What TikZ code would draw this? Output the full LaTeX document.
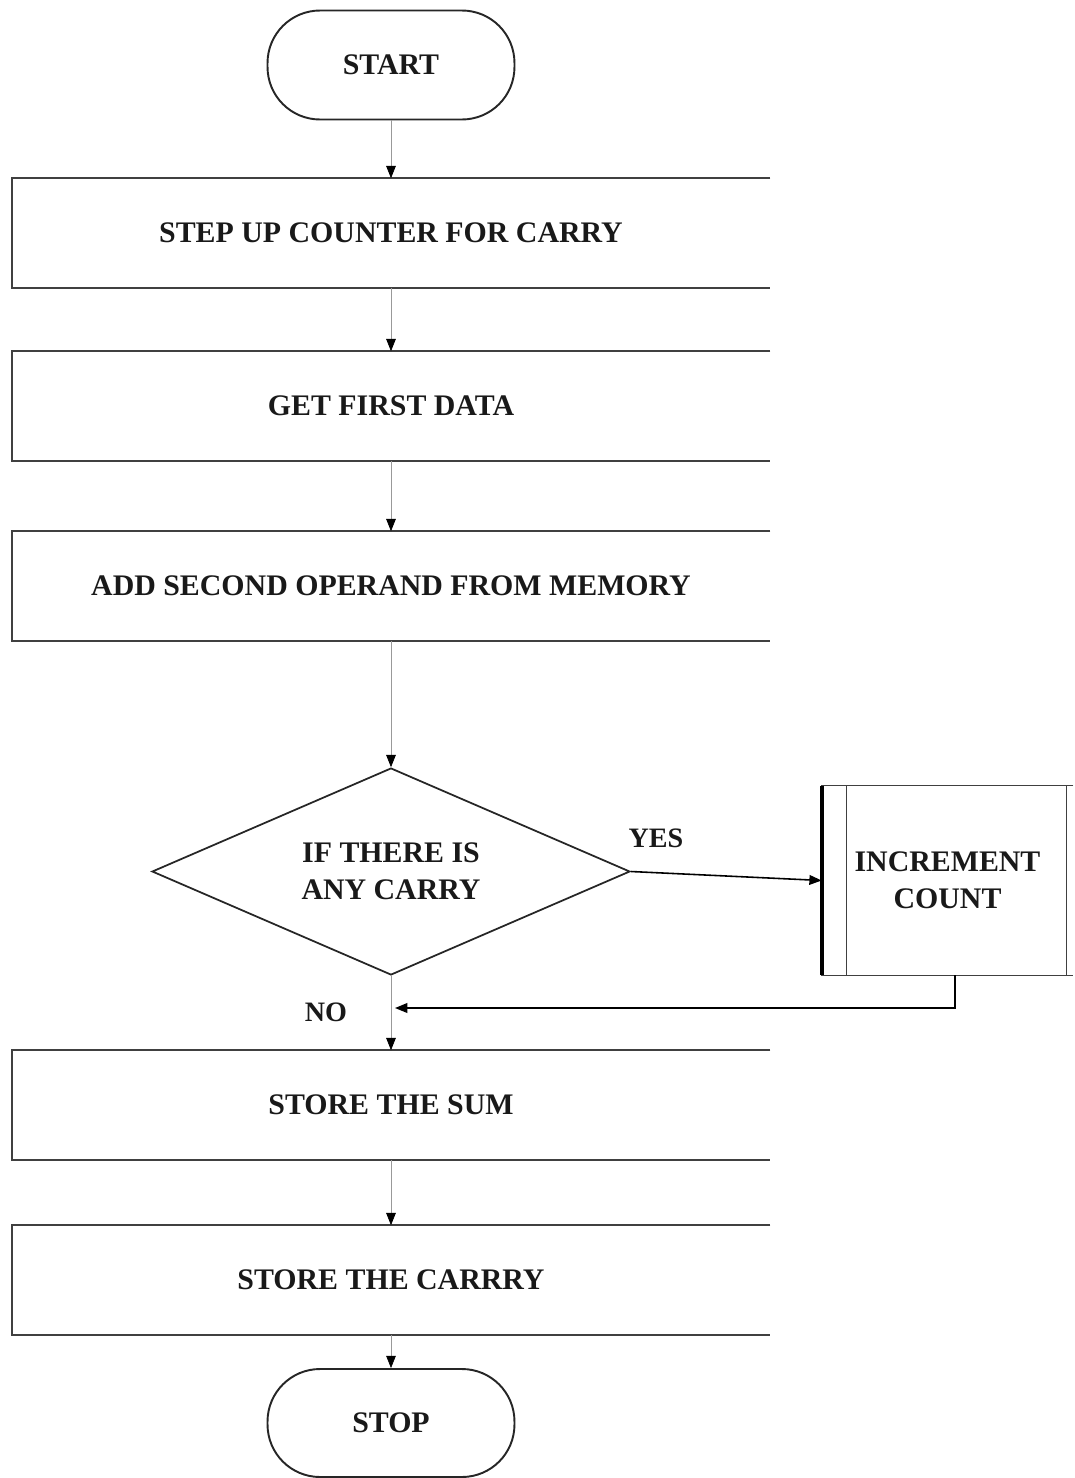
\documentclass[tikz,border=0pt]{standalone}
\usepackage{fontspec}
\setmainfont{Liberation Serif}
\usetikzlibrary{shapes.geometric,arrows.meta,calc}
\begin{document}
\begin{tikzpicture}[x=0.02cm,y=-0.02cm,
  lbl/.style={font=\fontsize{17}{21}\selectfont\bfseries,text=black!90},
  term/.style={draw=black!85,line width=1.1pt,rounded corners=1.05cm,
    minimum width=4.94cm,minimum height=2.18cm,inner sep=0pt,lbl},
  proc/.style={minimum width=15.16cm,minimum height=2.18cm,inner sep=0pt,lbl},
  edge/.style={draw=black!75,line width=0.9pt},
  tip/.style={-{Triangle[length=7pt,width=5.5pt,color=black]}},
  flow/.style={draw=black!40,line width=0.4pt,tip},
  link/.style={draw=black,line width=0.9pt,tip}
]
\path[use as bounding box] (0,0) rectangle (1075,1478);

% terminals
\node[term] (start) at (391,65) {START};
\node[term,minimum height=2.16cm] (stop) at (391,1423) {STOP};

% process boxes (open on the right)
\node[proc] (b1) at (391,233) {STEP UP COUNTER FOR CARRY};
\node[proc] (b2) at (391,406) {GET FIRST DATA};
\node[proc] (b3) at (391,586) {ADD SECOND OPERAND FROM MEMORY};
\node[proc] (b4) at (391,1105) {STORE THE SUM};
\node[proc] (b5) at (391,1280) {STORE THE CARRRY};
\foreach \n in {b1,b2,b3,b4,b5}
  \draw[edge] (\n.north east) -| (\n.south west) -- (\n.south east);

% decision
\node[diamond,shape aspect=2.31,draw=black!85,line width=1pt,minimum width=9.56cm,
  minimum height=4.14cm,inner sep=0pt,align=center,lbl] (dec) at (391,871.5)
  {IF THERE IS\\ANY CARRY};

% predefined process
\node[minimum width=5.02cm,minimum height=3.78cm,inner sep=0pt,align=center,lbl]
  (inc) at (947.5,880.5) {INCREMENT\\COUNT};
\draw[edge] (inc.north east) -- (inc.north west) -- (inc.south west) -- (inc.south east);
\draw[black,line width=2.2pt] (inc.north west) -- (inc.south west);
\draw[edge] ([xshift=0.5cm]inc.north west) -- ([xshift=0.5cm]inc.south west);
\draw[edge] ([xshift=-0.14cm]inc.north east) -- ([xshift=-0.14cm]inc.south east);

% labels
\node[lbl,font=\fontsize{16}{19}\selectfont\bfseries] (yes) at (656,838) {YES};
\node[lbl,font=\fontsize{16}{19}\selectfont\bfseries] (no) at (326,1012) {NO};

% connectors
\coordinate (ret) at (955,1008);
\coordinate (merge) at (395,1008);
\draw[flow] (start) -- (b1);
\draw[flow] (b1) -- (b2);
\draw[flow] (b2) -- (b3);
\draw[flow] (b3) -- (dec);
\draw[link] (dec.east) -- (inc.west);
\draw[link] (inc.south -| ret) -- (ret) -- (merge);
\draw[flow] (dec) -- (b4);
\draw[flow] (b4) -- (b5);
\draw[flow] (b5) -- (stop);
\end{tikzpicture}
\end{document}
